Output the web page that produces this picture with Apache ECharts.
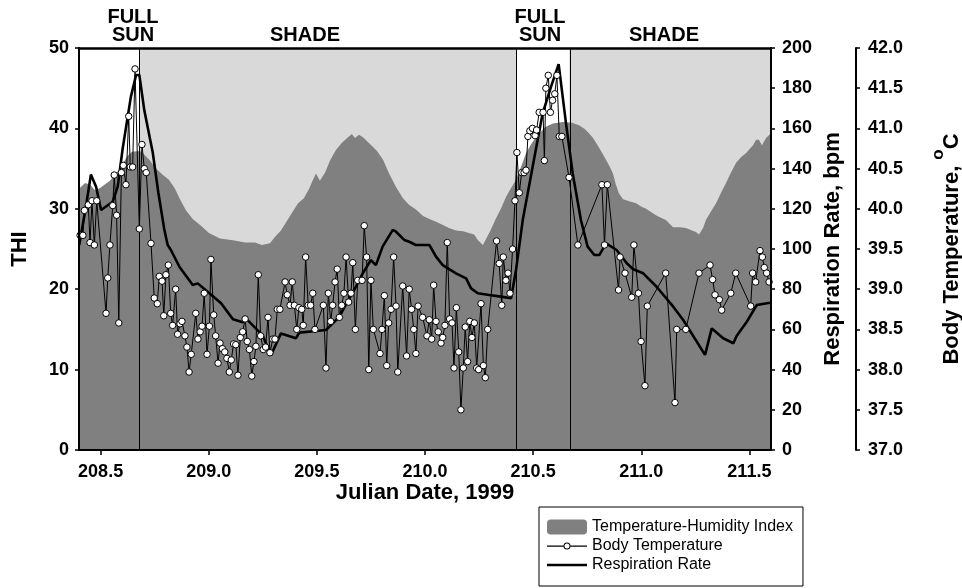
<!DOCTYPE html>
<html>
<head>
<meta charset="utf-8">
<script src="https://cdn.jsdelivr.net/npm/echarts@6/dist/echarts.min.js"></script>
<style>
  html, body { margin: 0; padding: 0; background: #fff; }
  #chart { width: 962px; height: 588px; }
</style>
</head>
<body>
<div id="chart"></div>
<script>
// Julian dates labelled on the x axis
const dateTicks = [208.5, 209.0, 209.5, 210.0, 210.5, 211.0, 211.5];

// Switches between full sun and shade
const sunStart1 = 208.4, shadeStart1 = 208.682, sunStart2 = 210.421, shadeStart2 = 210.667, dateEnd = 211.6;

// Temperature-Humidity Index [Julian date, THI]
const thi = [
  [208.400, 32.5], [208.428, 33.2], [208.451, 33.0], [208.474, 32.3], [208.497, 32.6],
  [208.543, 33.5], [208.590, 35.0], [208.622, 36.5], [208.645, 37.1], [208.682, 37.2],
  [208.696, 36.9], [208.728, 36.0], [208.756, 35.0], [208.788, 34.2], [208.816, 33.6],
  [208.844, 32.5], [208.867, 31.2], [208.895, 29.8], [208.927, 28.7], [208.960, 28.0],
  [209.001, 27.0], [209.052, 26.3], [209.112, 26.1], [209.168, 25.8], [209.214, 25.8],
  [209.246, 25.5], [209.283, 25.7], [209.306, 26.5], [209.334, 27.3], [209.357, 28.3],
  [209.385, 29.5], [209.413, 30.7], [209.440, 31.3], [209.464, 32.5], [209.482, 33.6],
  [209.496, 34.4], [209.514, 33.5], [209.538, 34.5], [209.561, 36.0], [209.588, 37.3],
  [209.616, 38.2], [209.644, 38.9], [209.662, 39.3], [209.676, 38.8], [209.695, 39.2],
  [209.713, 38.9], [209.732, 38.4], [209.755, 37.8], [209.778, 37.2], [209.806, 36.1],
  [209.834, 34.4], [209.866, 32.7], [209.898, 31.3], [209.926, 30.5], [209.958, 29.9],
  [209.991, 29.1], [210.023, 28.7], [210.051, 28.4], [210.083, 28.0], [210.111, 27.6],
  [210.143, 27.3], [210.176, 27.2], [210.203, 27.0], [210.227, 26.8], [210.245, 26.1],
  [210.268, 25.5], [210.287, 26.5], [210.301, 27.2], [210.328, 28.8], [210.351, 30.0],
  [210.375, 31.5], [210.398, 32.6], [210.421, 33.6], [210.444, 35.2], [210.467, 36.9],
  [210.490, 38.0], [210.513, 38.9], [210.536, 39.6], [210.559, 40.2], [210.592, 40.6],
  [210.638, 40.8], [210.680, 40.7], [210.712, 40.4], [210.740, 39.9], [210.758, 39.4],
  [210.777, 38.8], [210.791, 38.2], [210.814, 37.2], [210.837, 36.1], [210.855, 35.2],
  [210.869, 34.4], [210.883, 33.0], [210.897, 31.9], [210.916, 31.2], [210.948, 30.9],
  [210.976, 30.7], [210.999, 30.3], [211.022, 30.0], [211.045, 29.6], [211.068, 29.2],
  [211.091, 28.9], [211.114, 28.6], [211.147, 27.7], [211.179, 27.7], [211.207, 27.6],
  [211.235, 27.3], [211.253, 27.1], [211.267, 26.8], [211.286, 27.6], [211.299, 28.6],
  [211.323, 29.7], [211.346, 30.7], [211.369, 32.0], [211.392, 33.2], [211.415, 34.5],
  [211.438, 35.7], [211.461, 36.4], [211.484, 36.9], [211.503, 37.5], [211.517, 37.9],
  [211.531, 38.6], [211.544, 38.6], [211.558, 37.9], [211.577, 38.8], [211.600, 39.4]
];

// Body temperature readings [Julian date, degrees C]
const bodyTemp = [
  [208.405, 39.67], [208.418, 39.67], [208.425, 39.98], [208.443, 40.05], [208.451, 39.58],
  [208.460, 40.10], [208.471, 39.55], [208.482, 40.10], [208.525, 38.70], [208.533, 39.14],
  [208.543, 39.55], [208.556, 40.04], [208.563, 40.42], [208.574, 39.92], [208.584, 38.58],
  [208.596, 40.45], [208.605, 40.54], [208.617, 40.30], [208.630, 41.15], [208.637, 40.52],
  [208.648, 40.52], [208.659, 41.74], [208.679, 39.75], [208.691, 40.80], [208.702, 40.50],
  [208.711, 40.45], [208.733, 39.57], [208.748, 38.89], [208.762, 38.82], [208.771, 39.16],
  [208.784, 39.10], [208.792, 38.67], [208.802, 39.18], [208.813, 39.30], [208.824, 38.70],
  [208.833, 38.55], [208.847, 39.00], [208.856, 38.44], [208.867, 38.57], [208.876, 38.60],
  [208.890, 38.42], [208.899, 38.28], [208.909, 37.97], [208.919, 38.19], [208.940, 38.70],
  [208.950, 38.38], [208.960, 38.47], [208.969, 38.54], [208.979, 38.95], [208.992, 38.19],
  [209.003, 38.54], [209.010, 39.37], [209.023, 38.68], [209.032, 38.42], [209.043, 38.08],
  [209.052, 38.33], [209.063, 38.26], [209.074, 38.22], [209.084, 38.14], [209.095, 37.97],
  [209.104, 38.12], [209.115, 38.32], [209.125, 38.31], [209.135, 37.93], [209.146, 38.40],
  [209.157, 38.47], [209.168, 38.63], [209.178, 38.35], [209.188, 38.25], [209.199, 37.92],
  [209.209, 38.10], [209.218, 38.29], [209.229, 39.18], [209.240, 38.42], [209.252, 38.25],
  [209.263, 38.28], [209.274, 38.65], [209.283, 38.21], [209.296, 38.38], [209.306, 38.38],
  [209.317, 38.75], [209.329, 38.75], [209.353, 39.09], [209.363, 38.93], [209.376, 38.80],
  [209.386, 39.09], [209.396, 38.80], [209.407, 38.50], [209.417, 38.77], [209.430, 38.75],
  [209.437, 38.55], [209.448, 39.40], [209.460, 38.80], [209.471, 38.80], [209.481, 38.95],
  [209.491, 38.50], [209.530, 38.80], [209.542, 38.02], [209.553, 38.95], [209.564, 38.60],
  [209.573, 38.80], [209.584, 39.09], [209.594, 39.25], [209.604, 38.65], [209.615, 38.80],
  [209.625, 38.95], [209.635, 39.40], [209.647, 38.84], [209.658, 38.95], [209.666, 39.33],
  [209.678, 38.50], [209.689, 39.11], [209.709, 39.11], [209.719, 39.79], [209.730, 39.40],
  [209.740, 38.00], [209.750, 39.11], [209.761, 38.50], [209.792, 38.20], [209.801, 38.50],
  [209.812, 38.92], [209.823, 38.05], [209.832, 38.58], [209.843, 38.75], [209.855, 39.40],
  [209.866, 38.79], [209.874, 37.97], [209.897, 39.04], [209.915, 38.17], [209.927, 39.00],
  [209.938, 38.75], [209.948, 38.50], [209.958, 38.20], [209.968, 38.79], [209.989, 38.65],
  [210.009, 38.42], [210.020, 38.62], [210.031, 38.38], [210.040, 39.05], [210.051, 38.60],
  [210.061, 38.47], [210.074, 38.33], [210.082, 38.40], [210.092, 38.55], [210.103, 39.58],
  [210.114, 38.63], [210.125, 38.58], [210.134, 38.02], [210.145, 38.77], [210.156, 38.22],
  [210.166, 37.50], [210.177, 38.02], [210.186, 38.53], [210.197, 38.10], [210.207, 38.60],
  [210.217, 38.40], [210.228, 38.58], [210.239, 38.02], [210.248, 38.00], [210.259, 38.82],
  [210.270, 38.05], [210.279, 37.90], [210.290, 38.50], [210.331, 39.60], [210.343, 39.32],
  [210.355, 38.80], [210.362, 39.40], [210.374, 39.11], [210.384, 39.20], [210.393, 38.95],
  [210.405, 39.50], [210.416, 40.10], [210.425, 40.70], [210.436, 40.20], [210.447, 40.45],
  [210.458, 40.45], [210.467, 40.48], [210.476, 40.90], [210.485, 40.97], [210.497, 41.00],
  [210.509, 40.91], [210.516, 40.98], [210.528, 41.20], [210.546, 41.20], [210.552, 40.60],
  [210.559, 41.50], [210.570, 41.66], [210.580, 41.20], [210.590, 41.35], [210.600, 41.43],
  [210.610, 41.66], [210.621, 40.90], [210.633, 40.90], [210.666, 40.39], [210.707, 39.55],
  [210.818, 40.30], [210.830, 39.55], [210.843, 40.30], [210.895, 38.99], [210.902, 39.40],
  [210.925, 39.20], [210.956, 38.90], [210.966, 39.55], [210.987, 38.95], [210.999, 38.35],
  [211.017, 37.80], [211.028, 38.79], [211.113, 39.20], [211.156, 37.59], [211.164, 38.50],
  [211.206, 38.50], [211.267, 39.20], [211.318, 39.30], [211.330, 39.12], [211.341, 38.93],
  [211.361, 38.87], [211.372, 38.74], [211.414, 38.95], [211.437, 39.20], [211.506, 38.79],
  [211.515, 39.20], [211.529, 39.09], [211.549, 39.48], [211.560, 39.40], [211.569, 39.27],
  [211.580, 39.20], [211.591, 39.09]
];

// Respiration rate [Julian date, breaths per minute]
const respiration = [
  [208.401, 102.0], [208.432, 121.0], [208.455, 137.0], [208.479, 131.0], [208.502, 119.4],
  [208.556, 123.5], [208.579, 131.0], [208.602, 150.0], [208.640, 175.8], [208.664, 186.6],
  [208.679, 186.6], [208.702, 169.0], [208.741, 148.0], [208.767, 128.0], [208.794, 110.0],
  [208.810, 102.0], [208.825, 99.5], [208.864, 91.2], [208.926, 82.1], [208.949, 82.9],
  [209.003, 78.0], [209.057, 73.0], [209.112, 65.0], [209.157, 63.5], [209.172, 65.5],
  [209.249, 57.0], [209.288, 47.3], [209.334, 58.0], [209.403, 55.6], [209.419, 58.4],
  [209.542, 59.7], [209.604, 66.3], [209.650, 75.5], [209.681, 81.3], [209.712, 87.9],
  [209.750, 94.5], [209.773, 92.0], [209.804, 101.2], [209.851, 109.5], [209.866, 108.6],
  [209.904, 104.5], [209.927, 103.6], [209.958, 102.0], [210.020, 102.0], [210.051, 96.2],
  [210.082, 92.0], [210.143, 87.9], [210.190, 85.4], [210.213, 80.4], [210.244, 78.0],
  [210.297, 77.1], [210.351, 76.3], [210.398, 75.5], [210.421, 89.6], [210.452, 114.4],
  [210.498, 141.0], [210.544, 167.5], [210.583, 180.8], [210.618, 192.0], [210.652, 162.5],
  [210.683, 137.6], [210.721, 114.4], [210.752, 101.2], [210.783, 97.0], [210.806, 97.0],
  [210.837, 102.8], [210.886, 99.5], [210.933, 92.9], [210.963, 89.9], [211.009, 87.9],
  [211.071, 81.2], [211.148, 71.3], [211.194, 64.7], [211.295, 47.3], [211.326, 60.5],
  [211.379, 55.6], [211.426, 53.1], [211.441, 56.7], [211.488, 63.8], [211.534, 72.1],
  [211.595, 73.3]
];

const FONT = '"Liberation Sans", Arial, Helvetica, sans-serif';
const INK = '#000';
const THI_GREY = '#808080';
const SHADE_GREY = '#d9d9d9';

const tickLabel = { fontFamily: FONT, fontWeight: 'bold', fontSize: 18, color: INK };
const axisTitle = { fontFamily: FONT, fontWeight: 'bold', fontSize: 22, color: INK };

// Legend glyphs: a thin rule with a small ring, and a plain heavy rule
const ringRuleIcon = 'path://M0,3H16.6V4.3H0Z M23.4,3H40V4.3H23.4Z M16.5,3.6A3.5,3.5 0 1 0 23.5,3.6A3.5,3.5 0 1 0 16.5,3.6Z M17.5,3.6A2.5,2.5 0 1 1 22.5,3.6A2.5,2.5 0 1 1 17.5,3.6Z';
const heavyRuleIcon = 'path://M0,0H40V2.6H0Z';

function valueYAxis(extra) {
  return Object.assign({
    type: 'value',
    z: 10,
    nameLocation: 'middle',
    nameRotate: 90,
    nameMoveOverlap: false,
    nameTextStyle: axisTitle,
    axisLine: { show: true, onZero: false, lineStyle: { color: INK, width: 2 } },
    axisTick: { show: true, inside: false, length: 4, lineStyle: { color: INK, width: 1.5 } },
    splitLine: { show: false }
  }, extra);
}

function heading(text, x, y) {
  return {
    type: 'text', x: x, y: y, z: 20, silent: true,
    style: { text: text, textAlign: 'center', textVerticalAlign: 'top', font: 'bold 20px ' + FONT, lineHeight: 18, fill: INK }
  };
}

const chart = echarts.init(document.getElementById('chart'), null, { renderer: 'canvas' });

chart.setOption({
  animation: false,
  backgroundColor: '#fff',
  grid: { left: 79, right: 191, top: 48, bottom: 138, containLabel: false, outerBoundsMode: 'none' },
  xAxis: [
    {
      type: 'value', min: sunStart1, max: dateEnd, position: 'bottom', z: 10,
      name: 'Julian Date, 1999', nameLocation: 'middle', nameGap: 32, nameMoveOverlap: false,
      nameTextStyle: axisTitle,
      axisLine: { show: true, onZero: false, lineStyle: { color: INK, width: 2 } },
      axisTick: { show: true, customValues: dateTicks, length: 5, lineStyle: { color: INK, width: 1.5 } },
      axisLabel: Object.assign({ customValues: dateTicks, margin: 13, formatter: v => v.toFixed(1) }, tickLabel),
      splitLine: { show: false }
    },
    {
      type: 'value', min: sunStart1, max: dateEnd, position: 'top', z: 10,
      axisLine: { show: true, onZero: false, lineStyle: { color: INK, width: 2.5 } },
      axisTick: { show: false }, axisLabel: { show: false }, splitLine: { show: false }
    }
  ],
  yAxis: [
    valueYAxis({
      min: 0, max: 50, interval: 10, position: 'left', name: 'THI', nameGap: 48,
      axisLabel: Object.assign({ margin: 10 }, tickLabel)
    }),
    valueYAxis({
      min: 0, max: 200, interval: 20, position: 'right', name: 'Respiration Rate, bpm', nameGap: 51,
      axisLabel: Object.assign({ margin: 11 }, tickLabel)
    }),
    valueYAxis({
      min: 37, max: 42, interval: 0.5, position: 'right', offset: 85,
      name: 'Body Temperature, {sup|o}C', nameGap: 74,
      nameTextStyle: Object.assign({}, axisTitle, {
        lineHeight: 44,
        rich: { sup: { fontFamily: FONT, fontWeight: 'bold', fontSize: 17, color: INK, lineHeight: 17, verticalAlign: 'top' } }
      }),
      axisLabel: Object.assign({ margin: 12, formatter: v => v.toFixed(1) }, tickLabel)
    })
  ],
  legend: {
    orient: 'vertical', left: 539, top: 507,
    padding: [12, 10, 13, 8], itemGap: 3, itemWidth: 40, itemHeight: 15,
    borderColor: INK, borderWidth: 1, backgroundColor: '#fff',
    textStyle: { fontFamily: FONT, fontSize: 16, color: INK },
    data: [
      { name: 'Temperature-Humidity Index', icon: 'roundRect', itemStyle: { color: THI_GREY } },
      { name: 'Body Temperature', icon: ringRuleIcon, itemStyle: { color: INK, borderWidth: 0 } },
      { name: 'Respiration Rate', icon: heavyRuleIcon, itemStyle: { color: INK, borderWidth: 0 } }
    ]
  },
  graphic: [
    heading('FULL\nSUN', 133, 8),
    heading('SHADE', 305, 26),
    heading('FULL\nSUN', 540, 8),
    heading('SHADE', 664, 26)
  ],
  series: [
    {
      // shade periods as background bands
      name: 'periods', type: 'line', data: [], z: 1, silent: true,
      markArea: {
        silent: true,
        itemStyle: { color: SHADE_GREY },
        data: [
          [{ xAxis: shadeStart1 }, { xAxis: sunStart2 }],
          [{ xAxis: shadeStart2 }, { xAxis: dateEnd }]
        ]
      }
    },
    {
      name: 'Temperature-Humidity Index', type: 'line', data: thi, yAxisIndex: 0, z: 2,
      showSymbol: false, symbol: 'none', smooth: false,
      lineStyle: { width: 0, color: THI_GREY },
      itemStyle: { color: THI_GREY },
      areaStyle: { color: THI_GREY, opacity: 1 }
    },
    {
      // boundaries between sun and shade
      name: 'boundaries', type: 'line', data: [], z: 3, silent: true,
      markLine: {
        silent: true, symbol: ['none', 'none'], label: { show: false },
        lineStyle: { color: INK, width: 1, type: 'solid' },
        data: [{ xAxis: shadeStart1 }, { xAxis: sunStart2 }, { xAxis: shadeStart2 }]
      }
    },
    {
      name: 'Respiration Rate', type: 'line', data: respiration, yAxisIndex: 1, z: 4,
      showSymbol: false, symbol: 'none',
      lineStyle: { color: INK, width: 2.6 }, itemStyle: { color: INK }
    },
    {
      name: 'Body Temperature', type: 'line', data: bodyTemp, yAxisIndex: 2, z: 5,
      symbol: 'circle', symbolSize: 6.5, showAllSymbol: true,
      lineStyle: { color: INK, width: 1 },
      itemStyle: { color: '#fff', borderColor: INK, borderWidth: 1 }
    }
  ]
});
</script>
</body>
</html>
